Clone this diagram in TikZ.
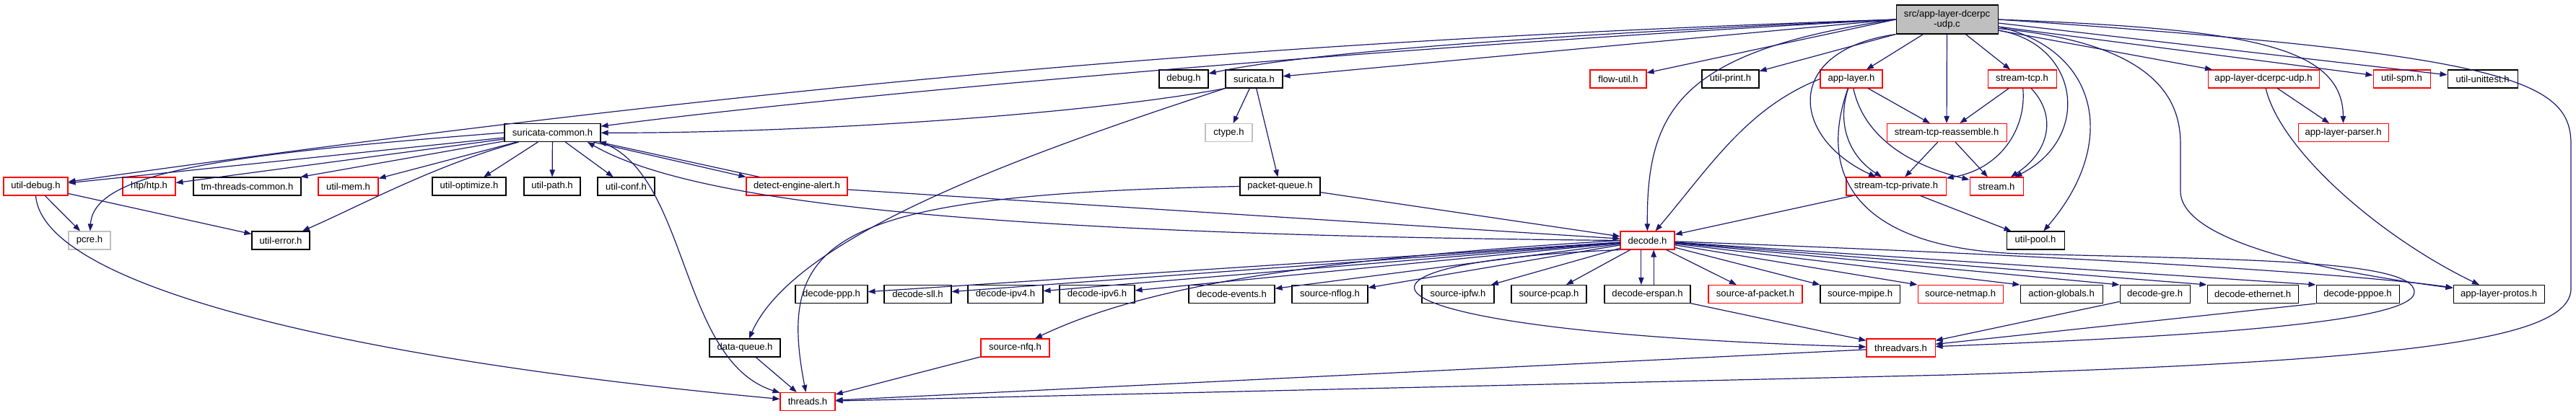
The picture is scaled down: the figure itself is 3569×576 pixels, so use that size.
\documentclass[tikz,border=0pt]{standalone}
\usepackage{fontspec}
\setmainfont{Liberation Sans}
\usetikzlibrary{arrows.meta}
\definecolor{dxblue}{RGB}{25,25,112}
\definecolor{dxred}{RGB}{255,0,0}
\definecolor{dxgray}{RGB}{191,191,191}
\newcommand{\dxfont}{\fontsize{9.8}{10.5}\selectfont}
\tikzset{every picture/.style={line width=0.75pt}}
\tikzset{
  hfile/.style={draw=black, line width=0.8pt, inner sep=0pt, minimum height=18.75pt, font=\dxfont},
  hred/.style={hfile, draw=dxred},
  hsys/.style={hfile, draw=dxgray},
  hroot/.style={hfile, fill=dxgray, minimum height=30pt, align=center},
  incl/.style={draw=dxblue, line width=0.9pt, -{Triangle[length=7.5pt,width=5.5pt]}},
}

\begin{document}
\begin{tikzpicture}[x=0.75pt,y=0.75pt,yscale=-1,xscale=1]
%set diagram to the size of the graph
\useasboundingbox (0,0) rectangle (3569,576);

% Root file
\node[hroot, minimum width=105.75pt] (root) at (2697.5,27) {src/app-layer-dcerpc\\-udp.c};

% Rank 1
\node[hfile, minimum width=51pt] (debug) at (1640,109.5) {debug.h};
\node[hfile, minimum width=59.25pt] (suricata) at (1737.5,109.5) {suricata.h};
\node[hred, minimum width=58.5pt] (flowutil) at (2242,109.5) {flow-util.h};
\node[hfile, minimum width=59.25pt] (utilprint) at (2397.5,109.5) {util-print.h};
\node[hred, minimum width=64.5pt] (applayer) at (2565,109.5) {app-layer.h};
\node[hred, minimum width=71.25pt] (streamtcp) at (2801.5,109.5) {stream-tcp.h};
\node[hred, minimum width=115.5pt] (dcerpcudp) at (3136,109.5) {app-layer-dcerpc-udp.h};
\node[hred, minimum width=59.25pt] (utilspm) at (3327.5,109.5) {util-spm.h};
\node[hfile, minimum width=72.75pt] (unittest) at (3439.5,109.5) {util-unittest.h};

% Rank 2
\node[hfile, minimum width=99.75pt] (common) at (765.5,184) {suricata-common.h};
\node[hsys, minimum width=48.75pt] (ctype) at (1702.5,184) {ctype.h};
\node[hred, minimum width=124.5pt] (reassemble) at (2697,184) {stream-tcp-reassemble.h};
\node[hred, minimum width=93.75pt] (parser) at (3246.5,184) {app-layer-parser.h};

% Rank 3
\node[hred, minimum width=66.75pt] (utildebug) at (49.5,258.5) {util-debug.h};
\node[hred, minimum width=54.75pt] (htp) at (206.5,258.5) {htp/htp.h};
\node[hfile, minimum width=111.75pt] (tmthreads) at (342.5,258.5) {tm-threads-common.h};
\node[hred, minimum width=62.25pt] (utilmem) at (482.5,258.5) {util-mem.h};
\node[hfile, minimum width=76.5pt] (optimize) at (650,258.5) {util-optimize.h};
\node[hfile, minimum width=58.5pt] (utilpath) at (765,258.5) {util-path.h};
\node[hfile, minimum width=59.25pt] (utilconf) at (867.5,258.5) {util-conf.h};
\node[hred, minimum width=105pt] (alert) at (1104,258.5) {detect-engine-alert.h};
\node[hfile, minimum width=83.25pt] (pktqueue) at (1773.5,258.5) {packet-queue.h};
\node[hred, minimum width=103.5pt] (tcpprivate) at (2627,258.5) {stream-tcp-private.h};
\node[hred, minimum width=55.5pt] (stream) at (2766,258.5) {stream.h};

% Rank 4
\node[hsys, minimum width=43.5pt] (pcre) at (124,333.5) {pcre.h};
\node[hfile, minimum width=60pt] (utilerror) at (389,333.5) {util-error.h};
\node[hred, minimum width=56.25pt] (decode) at (2282.5,333.5) {decode.h};
\node[hfile, minimum width=60pt] (utilpool) at (2820,333.5) {util-pool.h};

% Rank 5
\node[hfile, minimum width=75pt] (ppp) at (1152,408) {decode-ppp.h};
\node[hfile, minimum width=69.75pt] (sll) at (1271.5,408) {decode-sll.h};
\node[hfile, minimum width=78pt] (ipv4) at (1393,408) {decode-ipv4.h};
\node[hfile, minimum width=78pt] (ipv6) at (1520,408) {decode-ipv6.h};
\node[hfile, minimum width=89.25pt] (events) at (1706.5,408) {decode-events.h};
\node[hfile, minimum width=78.75pt] (nflog) at (1842.5,408) {source-nflog.h};
\node[hfile, minimum width=75pt] (ipfw) at (2020,408) {source-ipfw.h};
\node[hfile, minimum width=78pt] (pcap) at (2146,408) {source-pcap.h};
\node[hfile, minimum width=89.25pt] (erspan) at (2282.5,408) {decode-erspan.h};
\node[hred, minimum width=97.5pt] (afpacket) at (2432,408) {source-af-packet.h};
\node[hfile, minimum width=82.5pt] (mpipe) at (2577,408) {source-mpipe.h};
\node[hred, minimum width=88.5pt] (netmap) at (2716,408) {source-netmap.h};
\node[hfile, minimum width=85.5pt] (actglobals) at (2856,408) {action-globals.h};
\node[hfile, minimum width=72.75pt] (gre) at (2985.5,408) {decode-gre.h};
\node[hfile, minimum width=94.5pt] (ethernet) at (3121,408) {decode-ethernet.h};
\node[hfile, minimum width=86.25pt] (pppoe) at (3266.5,408) {decode-pppoe.h};
\node[hfile, minimum width=94.5pt] (protos) at (3462,408) {app-layer-protos.h};

% Rank 6 and 7
\node[hfile, minimum width=73.5pt] (dataqueue) at (1032,482.5) {data-queue.h};
\node[hred, minimum width=71.25pt] (nfq) at (1406.5,482.5) {source-nfq.h};
\node[hred, minimum width=71.25pt] (threadvars) at (2633.5,482.5) {threadvars.h};
\node[hred, minimum width=57pt] (threads) at (1119,557) {threads.h};

% Edges from the root file
\draw[incl] (root.west) .. controls (1800,72) and (1100,140) .. (common);
\draw[incl] (root.west) .. controls (1800,55) and (1100,110) .. (utildebug);
\draw[incl] (root.west) .. controls (2100,50) and (1800,75) .. (debug);
\draw[incl] (root.west) -- (suricata);
\draw[incl] (root.west) -- (flowutil);
\draw[incl] (root.south west) -- (utilprint);
\draw[incl] (root) -- (applayer);
\draw[incl] (root) -- (reassemble);
\draw[incl] (root) -- (streamtcp);
\draw[incl] (root.south west) .. controls (2470,70) and (2480,190) .. (tcpprivate);
\draw[incl] (root.west) .. controls (2330,70) and (2281,150) .. (decode);
\draw[incl] (root.-12) .. controls (2880,60) and (2900,190) .. (stream);
\draw[incl] (root.-8) .. controls (2910,70) and (2935,200) .. (utilpool);
\draw[incl] (root.-12) -- (dcerpcudp);
\draw[incl] (root.-8) -- (utilspm);
\draw[incl] (root.-4) -- (unittest);
\draw[incl] (root.east) .. controls (3100,40) and (3246,60) .. (parser);
\draw[incl] (root.-10) .. controls (2990,60) and (3021,140) .. (3021,200) -- (3021,265) .. controls (3021,340) and (3250,380) .. (protos);
\draw[incl] (root.east) .. controls (3470,75) and (3562,110) .. (3562,200) -- (3562,400) .. controls (3562,470) and (3350,500) .. (2700,520) -- (threads);

% suricata.h
\draw[incl] (suricata.south west) .. controls (1500,160) and (1100,185) .. (common);
\draw[incl] (suricata) -- (ctype);
\draw[incl] (suricata) -- (pktqueue);
\draw[incl] (suricata.south west) .. controls (1400,220) and (1100,330) .. (dataqueue);

% suricata-common.h
\draw[incl] (common) -- (utildebug);
\draw[incl] (common.west) .. controls (300,215) and (130,240) .. (pcre);
\draw[incl] (common) -- (htp);
\draw[incl] (common) -- (tmthreads);
\draw[incl] (common) -- (utilmem);
\draw[incl] (common) .. controls (600,230) and (500,285) .. (utilerror);
\draw[incl] (common) -- (optimize);
\draw[incl] (common) -- (utilpath);
\draw[incl] (common) -- (utilconf);
\draw[incl] ([xshift=-8pt]common.south east) -- (alert.north west);
\draw[incl] ([xshift=14pt]alert.north west) -- ([xshift=-2pt]common.south east);
\draw[incl] (common.south east) .. controls (955,240) and (940,500) .. (threads);

% util-debug.h
\draw[incl] (utildebug) -- (pcre);
\draw[incl] (utildebug) -- (utilerror);
\draw[incl] (utildebug.south) .. controls (60,400) and (500,500) .. (threads);

% detect-engine-alert.h, packet-queue.h and the queues
\draw[incl] (alert) -- (decode);
\draw[incl] (pktqueue) -- (decode);
\draw[incl] (pktqueue.west) .. controls (1150,270) and (1075,330) .. (threads);
\draw[incl] (dataqueue) -- (threads);
\draw[incl] (nfq) -- (threads);
\draw[incl] (threadvars) -- (threads);

% decode.h
\draw[incl] (decode.west) .. controls (1300,325) and (950,275) .. ([xshift=-14pt]common.south east);
\draw[incl] (decode.west) .. controls (1800,360) and (1580,400) .. (nfq);
\draw[incl] (decode.south west) .. controls (1800,365) and (1850,460) .. (threadvars);
\draw[incl] (decode) -- (ppp);
\draw[incl] (decode) -- (sll);
\draw[incl] (decode) -- (ipv4);
\draw[incl] (decode) -- (ipv6);
\draw[incl] (decode) -- (events);
\draw[incl] (decode) -- (nflog);
\draw[incl] (decode) -- (ipfw);
\draw[incl] (decode) -- (pcap);
\draw[incl] ([xshift=-6.5pt]decode.south) -- ([xshift=-6.5pt]erspan.north);
\draw[incl] ([xshift=6.5pt]erspan.north) -- ([xshift=6.5pt]decode.south);
\draw[incl] (decode) -- (afpacket);
\draw[incl] (decode) -- (mpipe.north west);
\draw[incl] (decode) -- (netmap.north west);
\draw[incl] (decode) -- (actglobals.north west);
\draw[incl] (decode) -- (gre.north west);
\draw[incl] (decode) -- (ethernet.north west);
\draw[incl] (decode) -- (pppoe.north west);
\draw[incl] (decode) .. controls (3000,360) and (3300,385) .. (protos);
\draw[incl] (erspan) -- (threadvars);
\draw[incl] (gre) -- (threadvars);
\draw[incl] (pppoe.south west) -- (threadvars);

% stream headers
\draw[incl] (tcpprivate) -- (decode);
\draw[incl] (tcpprivate) -- (utilpool);
\draw[incl] (applayer.west) .. controls (2420,150) and (2370,230) .. (decode);
\draw[incl] (applayer) -- (reassemble);
\draw[incl] (applayer) .. controls (2545,170) and (2560,215) .. (tcpprivate);
\draw[incl] (applayer) .. controls (2580,180) and (2630,225) .. (stream);
\draw[incl] (applayer) .. controls (2515,250) and (2580,345) .. (2800,352) .. controls (3100,360) and (3345,360) .. (3345,405) .. controls (3345,450) and (3000,468) .. (threadvars);
\draw[incl] (streamtcp) -- (reassemble);
\draw[incl] (streamtcp) .. controls (2808,180) and (2770,235) .. (tcpprivate);
\draw[incl] (streamtcp) .. controls (2850,160) and (2840,210) .. (stream);
\draw[incl] (reassemble) -- (tcpprivate);
\draw[incl] (reassemble) -- (stream);

% app-layer-dcerpc-udp.h
\draw[incl] (dcerpcudp) -- (parser);
\draw[incl] (dcerpcudp) .. controls (3160,210) and (3300,330) .. (protos);

\end{tikzpicture}
\end{document}
